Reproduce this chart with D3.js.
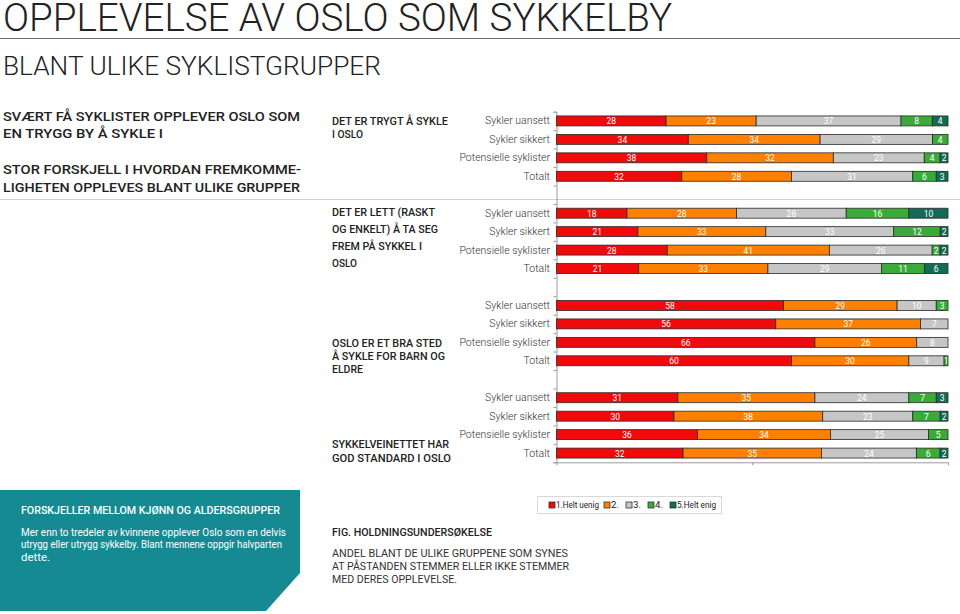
<!DOCTYPE html>
<html><head><meta charset="utf-8">
<script src="https://cdn.jsdelivr.net/npm/d3@7"></script>
<style>
html,body{margin:0;padding:0;background:#fff;}
svg{display:block;font-family:Roboto,"Noto Sans",sans-serif;}
</style></head>
<body><svg id="chart" width="960" height="614"></svg>
<script>
// ---------- DATA ----------
const rowLabels = ["Sykler uansett", "Sykler sikkert", "Potensielle syklister", "Totalt"];
const categories = ["1.Helt uenig", "2.", "3.", "4.", "5.Helt enig"];
const statementTitles = [
  ["DET ER TRYGT Å SYKLE", "I OSLO"],
  ["DET ER LETT (RASKT", "OG ENKELT) Å TA SEG", "FREM PÅ SYKKEL I", "OSLO"],
  ["OSLO ER ET BRA STED", "Å SYKLE FOR BARN OG", "ELDRE"],
  ["SYKKELVEINETTET HAR", "GOD STANDARD I OSLO"]
];
const trygtValues    = [[28,23,37,8,4],[34,34,29,4,0],[38,32,23,4,2],[32,28,31,6,3]];
const lettValues     = [[18,28,28,16,10],[21,33,33,12,2],[28,41,26,2,2],[21,33,29,11,6]];
const barnValues     = [[58,29,10,3,0],[56,37,7,0,0],[66,26,8,0,0],[60,30,9,1,0]];
const standardValues = [[31,35,24,7,3],[30,38,23,7,2],[36,34,25,5,0],[32,35,24,6,2]];
const xTicks = [0, 50, 100];

const titleText = "OPPLEVELSE AV OSLO SOM SYKKELBY";
const subtitleText = "BLANT ULIKE SYKLISTGRUPPER";
const leftHeads = [["SVÆRT FÅ SYKLISTER OPPLEVER OSLO SOM", "EN TRYGG BY Å SYKLE I"],
                   ["STOR FORSKJELL I HVORDAN FREMKOMME-", "LIGHETEN OPPLEVES BLANT ULIKE GRUPPER"]];
const boxHead = "FORSKJELLER MELLOM KJØNN OG ALDERSGRUPPER";
const boxBody = ["Mer enn to tredeler av kvinnene opplever Oslo som en delvis",
                 "utrygg eller utrygg sykkelby. Blant mennene oppgir halvparten",
                 "dette."];
const figHead = "FIG. HOLDNINGSUNDERSØKELSE";
const figBody = ["ANDEL BLANT DE ULIKE GRUPPENE SOM SYNES",
                 "AT PÅSTANDEN STEMMER ELLER IKKE STEMMER",
                 "MED DERES OPPLEVELSE."];

// ---------- DRAW ----------
const svg = d3.select("#chart");
const colors = ["#f00a0a", "#ff8000", "#c6c6c6", "#3aab38", "#136b57"];
const color = d3.scaleOrdinal().domain(categories).range(colors);

function txt(x, y, s, o) {
  const t = svg.append("text").attr("x", x).attr("y", y).text(s)
    .attr("dominant-baseline", o.base || "central")
    .attr("font-size", o.size).attr("fill", o.fill || "#222")
    .attr("font-weight", o.weight || 400);
  if (o.anchor) t.attr("text-anchor", o.anchor);
  if (o.ls) t.attr("letter-spacing", o.ls);
  if (o.len) t.attr("textLength", o.len).attr("lengthAdjust", "spacingAndGlyphs");
  return t;
}

// Title + subtitle
txt(3, 31, titleText, {size: 38, weight: 300, base: "alphabetic", fill: "#222", len: 669});
svg.append("line").attr("x1", 0).attr("x2", 960).attr("y1", 38.5).attr("y2", 38.5)
  .attr("stroke", "#6f6f6f").attr("stroke-width", 1);
txt(3, 75, subtitleText, {size: 25, weight: 300, base: "alphabetic", fill: "#222", len: 378});

// Left headers
const headY = [[116, 133], [169, 187]];
const headW = [[297, 160], [298, 297]];
leftHeads.forEach((lines, i) => lines.forEach((l, j) =>
  txt(3, headY[i][j], l, {size: 13.5, weight: 500, fill: "#222", len: headW[i][j]})));
svg.append("line").attr("x1", 0).attr("x2", 960).attr("y1", 199.5).attr("y2", 199.5)
  .attr("stroke", "#cfcfcf").attr("stroke-width", 1);

// Statement titles
const stY = [[121, 134], [212, 229, 246, 263], [343, 356, 369], [444, 458]];
const stW = [[116, 31], [103, 106, 90, 25], [110, 113, 31], [117, 119]];
statementTitles.forEach((lines, i) => lines.forEach((l, j) =>
  txt(332, stY[i][j], l, {size: 10.5, weight: 500, fill: "#222", len: stW[i][j]})));

// Bars
const allGroups = [trygtValues, lettValues, barnValues, standardValues];
const nSlots = 19;
const yTop = 111.7, yBot = 462.3;
const y = d3.scaleBand().domain(d3.range(nSlots)).range([yTop, yBot])
  .paddingInner(0.46).paddingOuter(0.23);
const ySlot = d3.scaleLinear().domain([0, nSlots]).range([yTop, yBot]);
const x = d3.scaleLinear().domain([0, 100]).range([556.5, 948]);

const rows = [];
allGroups.forEach((g, gi) => g.forEach((vals, ri) => {
  const total = d3.sum(vals);
  let acc = 0;
  const segs = vals.map((v, ci) => {
    const s = {v, ci, x0: acc / total * 100, x1: (acc + v) / total * 100};
    acc += v; return s;
  });
  rows.push({slot: gi * 5 + ri, label: rowLabels[ri], segs});
}));

// axes
const yAxis = d3.axisLeft(ySlot).tickValues(d3.range(nSlots + 1)).tickSize(3).tickFormat("");
const ya = svg.append("g").attr("transform", "translate(556.5,0)").call(yAxis);
ya.selectAll("path,line").attr("stroke", "#9a9a9a");
const xAxis = d3.axisBottom(x).tickValues(xTicks).tickSize(3).tickFormat("").tickSizeOuter(0);
const xa = svg.append("g").attr("transform", `translate(0,${yBot})`).call(xAxis);
xa.selectAll("path,line").attr("stroke", "#9a9a9a");

const rowG = svg.append("g").selectAll("g").data(rows).join("g");
rowG.append("text")
  .attr("x", 550).attr("y", d => y(d.slot) + y.bandwidth() / 2)
  .attr("text-anchor", "end").attr("dominant-baseline", "central")
  .attr("font-size", 10.5).attr("font-weight", 300).attr("fill", "#333")
  .text(d => d.label);
const seg = rowG.selectAll("g.seg").data(d => d.segs.filter(s => s.v > 0).map(s => ({...s, slot: d.slot})))
  .join("g").attr("class", "seg");
seg.append("rect")
  .attr("x", s => x(s.x0)).attr("width", s => x(s.x1) - x(s.x0))
  .attr("y", s => y(s.slot)).attr("height", y.bandwidth())
  .attr("fill", s => color(categories[s.ci]))
  .attr("stroke", "#2a2a2a").attr("stroke-width", 0.8);
seg.append("text")
  .attr("x", s => (x(s.x0) + x(s.x1)) / 2)
  .attr("y", s => y(s.slot) + y.bandwidth() / 2 + 0.5)
  .attr("text-anchor", "middle").attr("dominant-baseline", "central")
  .attr("font-size", 8.5).attr("fill", "#fff")
  .text(s => s.v);

// Legend
svg.append("rect").attr("x", 537.5).attr("y", 496.5).attr("width", 184).attr("height", 17)
  .attr("fill", "#fff").attr("stroke", "#d8d8d8");
const legX = [549, 604, 626, 648, 670];
const legW = [43, 8, 8, 8, 39];
const lg = svg.append("g").selectAll("g").data(categories).join("g")
  .attr("transform", (d, i) => `translate(${legX[i]},505)`);
lg.append("rect").attr("x", 0).attr("y", -3).attr("width", 6).attr("height", 6)
  .attr("fill", d => color(d)).attr("stroke", "#333").attr("stroke-width", 0.8);
lg.append("text").attr("x", 7).attr("y", 0).attr("dominant-baseline", "central")
  .attr("font-size", 9).attr("fill", "#222").text(d => d)
  .attr("textLength", (d, i) => legW[i]).attr("lengthAdjust", "spacingAndGlyphs");

// Teal box
svg.append("path").attr("d", "M0,490 L300,490 L300,573 L266,611 L0,611 Z").attr("fill", "#168a93");
txt(21, 510, boxHead, {size: 10.5, weight: 500, fill: "#fff", len: 259});
const bodyY = [532, 544.5, 557];
const bodyW = [265, 261, 29];
boxBody.forEach((l, i) => txt(21, bodyY[i], l, {size: 10.5, weight: 400, fill: "#fff", len: bodyW[i]}));

// Fig text
txt(332, 532, figHead, {size: 10.5, weight: 500, fill: "#222", len: 160});
const figY = [553, 566, 579];
const figW = [236, 237, 125];
figBody.forEach((l, i) => txt(332, figY[i], l, {size: 10.5, weight: 400, fill: "#333", len: figW[i]}));
</script>
</body></html>
